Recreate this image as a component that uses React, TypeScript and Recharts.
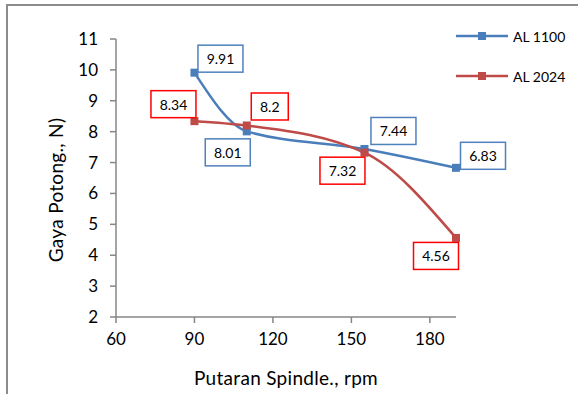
import { LineChart, Line, XAxis, YAxis, LabelList, Label } from 'recharts'

// Gaya potong vs putaran spindle
const RPM = [90, 110, 155, 190]
const AL1100 = [9.91, 8.01, 7.44, 6.83]
const AL2024 = [8.34, 8.2, 7.32, 4.56]
const X_TICKS = [60, 90, 120, 150, 180]
const Y_TICKS = [2, 3, 4, 5, 6, 7, 8, 9, 10, 11]

const data = RPM.map((rpm, i) => ({ rpm, al1100: AL1100[i], al2024: AL2024[i] }))

const BLUE = '#4a7ebb'
const RED = '#be4b48'
const AXIS = '#868686'
const FONT = 'Lato, sans-serif'

// where each value box sits relative to its point
const BLUE_OFFSETS = [[26, -14], [-19, 21], [29, -18], [27, -12]]
const RED_OFFSETS = [[-21, -17], [23, -19], [-22, 18], [-20, 18]]

const makeLabel = (border: string, offsets: number[][]) => (props: any) => {
  const { x, y, value, index } = props
  const [dx, dy] = offsets[index]
  const text = String(value)
  const w = text.length * 8 + 13
  const h = 27
  const cx = x + dx
  const cy = y + dy
  return (
    <g>
      <rect x={cx - w / 2} y={cy - h / 2} width={w} height={h} fill='#fff' stroke={border} strokeWidth={1.5} />
      <text x={cx} y={cy} textAnchor='middle' dominantBaseline='central' fontSize={14} fontFamily={FONT} fill='#000'>
        {text}
      </text>
    </g>
  )
}

const squareDot = (color: string) => (props: any) => {
  const { cx, cy, index } = props
  return <rect key={`d-${index}`} x={cx - 4} y={cy - 4} width={8} height={8} fill={color} />
}

function LegendBox() {
  const items = [
    { name: 'AL 1100', color: BLUE },
    { name: 'AL 2024', color: RED },
  ]
  return (
    <svg width={120} height={70} style={{ position: 'absolute', left: 456, top: 26 }}>
      {items.map((it, i) => (
        <g key={it.name} transform={`translate(0, ${10 + i * 40})`}>
          <line x1={0} y1={0} x2={52} y2={0} stroke={it.color} strokeWidth={2.5} />
          <rect x={22} y={-4} width={8} height={8} fill={it.color} />
          <text x={57} y={0} dominantBaseline='central' fontSize={14} fontFamily={FONT} fill='#000'>
            {it.name}
          </text>
        </g>
      ))}
    </svg>
  )
}

export default function App() {
  return (
    <div style={{ position: 'absolute', left: 0, top: 0, width: 578, height: 394, background: '#fff', overflow: 'hidden' }}>
      <div
        style={{
          position: 'absolute',
          left: 6,
          top: 4,
          width: 600,
          height: 420,
          borderLeft: '2px solid #8c8c8c',
          borderTop: '2px solid #8c8c8c',
        }}
      />
      <LineChart
        width={578}
        height={394}
        data={data}
        margin={{ top: 39, right: 122, bottom: 47, left: 56 }}
        style={{ position: 'absolute', left: 0, top: 0, fontFamily: FONT }}
      >
        <XAxis
          type='number'
          dataKey='rpm'
          domain={[60, 190]}
          ticks={X_TICKS}
          interval={0}
          stroke={AXIS}
          strokeWidth={1.5}
          tickSize={6}
          tickMargin={10}
          tick={{ fill: '#000', fontSize: 17, fontFamily: FONT }}
        >
          <Label
            content={({ viewBox }: any) => (
              <text
                x={viewBox.x + viewBox.width / 2}
                y={viewBox.y + 68}
                textAnchor='middle'
                fontSize={19}
                letterSpacing={0.3}
                fontFamily={FONT}
                fill='#000'
              >
                Putaran Spindle., rpm
              </text>
            )}
          />
        </XAxis>
        <YAxis
          type='number'
          domain={[2, 11]}
          ticks={Y_TICKS}
          interval={0}
          stroke={AXIS}
          strokeWidth={1.5}
          tickSize={6}
          tickMargin={12}
          tick={{ fill: '#000', fontSize: 17, fontFamily: FONT }}
        >
          <Label
            content={({ viewBox }: any) => {
              const x = viewBox.x - 1
              const y = viewBox.y + viewBox.height / 2 + 12
              return (
                <text
                  x={x}
                  y={y}
                  transform={`rotate(-90, ${x}, ${y})`}
                  textAnchor='middle'
                  dominantBaseline='central'
                  fontSize={19}
                  letterSpacing={0.3}
                  fontFamily={FONT}
                  fill='#000'
                >
                  Gaya Potong., N)
                </text>
              )
            }}
          />
        </YAxis>
        <Line
          type='monotone'
          dataKey='al1100'
          name='AL 1100'
          stroke={BLUE}
          strokeWidth={2.5}
          dot={squareDot(BLUE)}
          isAnimationActive={false}
        >
          <LabelList dataKey='al1100' content={makeLabel('#4f81bd', BLUE_OFFSETS)} />
        </Line>
        <Line
          type='monotone'
          dataKey='al2024'
          name='AL 2024'
          stroke={RED}
          strokeWidth={2.5}
          dot={squareDot(RED)}
          isAnimationActive={false}
        >
          <LabelList dataKey='al2024' content={makeLabel('#ff0000', RED_OFFSETS)} />
        </Line>
      </LineChart>
      <LegendBox />
    </div>
  )
}
